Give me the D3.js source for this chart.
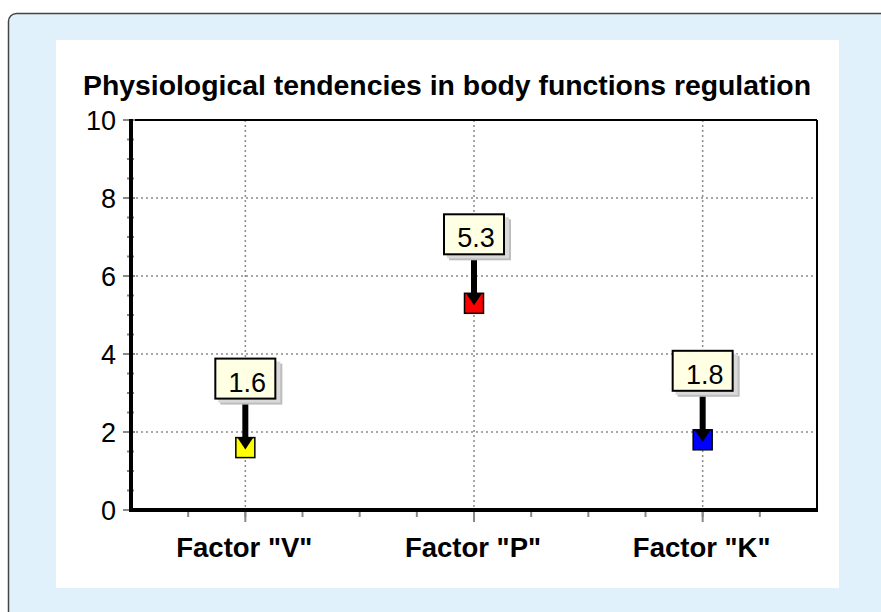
<!DOCTYPE html>
<html><head><meta charset="utf-8">
<script src="https://cdn.jsdelivr.net/npm/d3@7"></script>
<style>body{margin:0;background:#fff;}svg{display:block;font-family:Arial,"Liberation Sans",sans-serif;}</style>
</head><body>
<svg id="c" width="881" height="612"></svg>
<script>
const title = "Physiological tendencies in body functions regulation";
const categories = ['Factor "V"', 'Factor "P"', 'Factor "K"'];
const values = [1.6, 5.3, 1.8];
const colors = ["#FFFF00", "#FF0000", "#0000FF"];
const yTicks = [0, 2, 4, 6, 8, 10];

const svg = d3.select("#c");
// outer panel
svg.append("rect").attr("x", 8.5).attr("y", 13.5).attr("width", 900).attr("height", 700)
  .attr("rx", 8).attr("fill", "#E0F1FB").attr("stroke", "#444").attr("stroke-width", 1.5);
svg.append("rect").attr("x", 56).attr("y", 40).attr("width", 783).attr("height", 548).attr("fill", "#fff");

const L = 131, T = 120, R = 817, B = 510;
const x = d3.scaleBand().domain(categories).range([L, R]);
const y = d3.scaleLinear().domain([0, 10]).range([B, T]);
const cx = d => x(d) + x.bandwidth() / 2;

// title
svg.append("text").attr("x", 447).attr("y", 95).attr("text-anchor", "middle")
  .attr("font-weight", "bold").attr("font-size", 27).attr("fill", "#000")
  .attr("textLength", 728).attr("lengthAdjust", "spacingAndGlyphs").text(title);

// gridlines
const g = svg.append("g");
g.selectAll(".hg").data(yTicks.filter(t => t > 0 && t < 10)).join("line")
  .attr("x1", L).attr("x2", R).attr("y1", d => y(d)).attr("y2", d => y(d))
  .attr("stroke", "#8a8a8a").attr("stroke-width", 1.5).attr("stroke-dasharray", "2,3");
g.selectAll(".vg").data(categories).join("line")
  .attr("x1", cx).attr("x2", cx).attr("y1", T).attr("y2", B)
  .attr("stroke", "#8a8a8a").attr("stroke-width", 1.5).attr("stroke-dasharray", "2,3");

// plot frame top/right
svg.append("line").attr("x1", L).attr("x2", R).attr("y1", T).attr("y2", T).attr("stroke", "#000").attr("stroke-width", 2);
svg.append("line").attr("x1", R).attr("x2", R).attr("y1", T).attr("y2", B).attr("stroke", "#000").attr("stroke-width", 2);

// y minor ticks
const yMinor = d3.range(0, 10.01, 0.5);
svg.append("g").selectAll("line").data(yMinor).join("line")
  .attr("x1", L - 4).attr("x2", L + 3).attr("y1", d => y(d)).attr("y2", d => y(d))
  .attr("stroke", "#888").attr("stroke-width", 2);
svg.append("g").selectAll("line").data(yTicks).join("line")
  .attr("x1", L - 8).attr("x2", L + 4).attr("y1", d => y(d)).attr("y2", d => y(d))
  .attr("stroke", "#888").attr("stroke-width", 2);

// x ticks
const q = x.bandwidth() / 4;
const xMinor = d3.range(1, 12).map(k => L + k * q);
svg.append("g").selectAll("line").data(xMinor).join("line")
  .attr("x1", d => d).attr("x2", d => d).attr("y1", B).attr("y2", B + 7)
  .attr("stroke", "#888").attr("stroke-width", 2);
svg.append("g").selectAll("line").data(categories).join("line")
  .attr("x1", cx).attr("x2", cx).attr("y1", B).attr("y2", B + 12)
  .attr("stroke", "#888").attr("stroke-width", 2);

// axes lines
svg.append("line").attr("x1", L).attr("x2", L).attr("y1", T - 1).attr("y2", B + 2).attr("stroke", "#000").attr("stroke-width", 4);
svg.append("line").attr("x1", L).attr("x2", R + 1).attr("y1", B).attr("y2", B).attr("stroke", "#000").attr("stroke-width", 4);

// y labels
svg.append("g").selectAll("text").data(yTicks).join("text")
  .attr("x", L - 15).attr("y", d => y(d) + 10).attr("text-anchor", "end")
  .attr("font-size", 27).attr("fill", "#000").text(d => d);

// x labels
svg.append("g").selectAll("text").data(categories).join("text")
  .attr("x", d => cx(d) - 1).attr("y", 557).attr("text-anchor", "middle")
  .attr("font-size", 27.5).attr("font-weight", "bold").attr("fill", "#000").text(d => d);

// markers
const pts = categories.map((c, i) => ({c, v: values[i], col: colors[i]}));
const mk = svg.append("g").selectAll("g").data(pts).join("g")
  .attr("transform", d => `translate(${cx(d.c)},${y(d.v)})`);
mk.append("rect").attr("x", -9.5).attr("y", -10).attr("width", 19).attr("height", 20)
  .attr("fill", d => d.col).attr("stroke", "#000").attr("stroke-width", 1.5);

// labels with arrows
const lb = svg.append("g").selectAll("g").data(pts).join("g")
  .attr("transform", d => `translate(${cx(d.c)},${y(d.v)})`);
lb.append("line").attr("x1", 0).attr("x2", 0).attr("y1", -49).attr("y2", -8)
  .attr("stroke", "#000").attr("stroke-width", 6);
lb.append("path").attr("d", "M-8,-10 L8,-10 L0,2 Z").attr("fill", "#000");
lb.append("rect").attr("x", -25).attr("y", -84).attr("width", 62).attr("height", 41).attr("fill", "#bdbdbd");
lb.append("rect").attr("x", -27).attr("y", -86).attr("width", 62).attr("height", 41).attr("fill", "#d9d9d9");
lb.append("rect").attr("x", -30).attr("y", -89).attr("width", 60).attr("height", 40)
  .attr("fill", "#FFFFE3").attr("stroke", "#000").attr("stroke-width", 2);
lb.append("text").attr("x", 2).attr("y", -56).attr("text-anchor", "middle")
  .attr("font-size", 27).attr("fill", "#000").text(d => d.v.toFixed(1));
</script>
</body></html>
